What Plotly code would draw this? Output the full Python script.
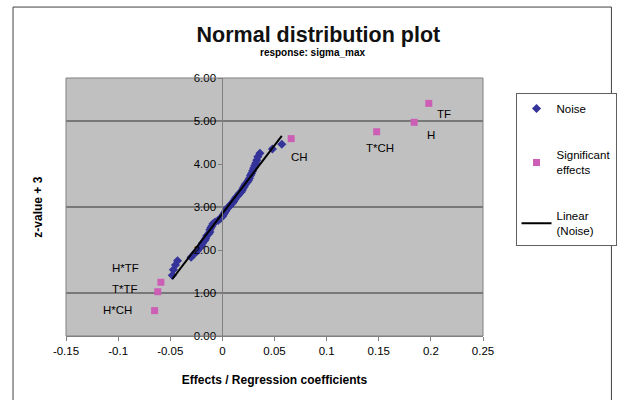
import numpy as np
import plotly.graph_objects as go

# Noise effects (small, normally distributed effects): effect value and z-value + 3
noise_x = [
    -0.048, -0.047, -0.045, -0.043,
    -0.030, -0.027, -0.024, -0.022, -0.020, -0.019, -0.017, -0.016, -0.015,
    -0.013, -0.012, -0.012, -0.011,
    -0.010, -0.009, -0.007, -0.004, -0.002, 0.000, 0.001, 0.002, 0.003,
    0.004, 0.005, 0.007, 0.008, 0.010, 0.011, 0.012, 0.013,
    0.015, 0.016, 0.018, 0.019, 0.020, 0.021, 0.022, 0.024, 0.025, 0.026,
    0.027, 0.028, 0.029, 0.030, 0.031, 0.032, 0.033, 0.034, 0.036,
    0.048, 0.057,
]
noise_y = [
    1.41, 1.54, 1.65, 1.75,
    1.83, 1.91, 1.98, 2.04, 2.10, 2.16, 2.22, 2.27, 2.33,
    2.38, 2.42, 2.47, 2.52,
    2.56, 2.61, 2.65, 2.69, 2.73, 2.78, 2.82, 2.86, 2.90,
    2.94, 2.98, 3.02, 3.06, 3.10, 3.14, 3.18, 3.22,
    3.27, 3.31, 3.35, 3.39, 3.44, 3.48, 3.53, 3.58, 3.62, 3.67,
    3.73, 3.78, 3.84, 3.90, 3.96, 4.02, 4.09, 4.17, 4.25,
    4.35, 4.46,
]

# Significant effects
sig_labels = ["H*CH", "T*TF", "H*TF", "CH", "T*CH", "H", "TF"]
sig_x = [-0.065, -0.062, -0.059, 0.066, 0.148, 0.184, 0.198]
sig_y = [0.59, 1.03, 1.25, 4.59, 4.75, 4.97, 5.41]

# x-axis ticks
x_tickvals = [-0.15, -0.1, -0.05, 0, 0.05, 0.1, 0.15, 0.2, 0.25]
x_ticktext = ["-0.15", "-0.1", "-0.05", "0", "0.05", "0.1", "0.15", "0.2", "0.25"]
y_tickvals = [0, 1, 2, 3, 4, 5, 6]
grid_levels = [1, 3, 5]

# label offsets (pixels) for the significant-effect labels
label_shift = [(-37, 1), (-33, 3), (-35, 14), (8, -18), (3, -16), (17, -13), (15, -11)]

FONT = "Liberation Sans, Arial, sans-serif"
X_RANGE = [-0.15, 0.25]

# linear trendline fitted to the noise points
slope, intercept = np.polyfit(noise_x, noise_y, 1)
trend_x = np.array([min(noise_x), max(noise_x)])
trend_y = slope * trend_x + intercept

fig = go.Figure()
fig.add_trace(go.Scatter(
    x=noise_x, y=noise_y, mode="markers", name="Noise", legendgroup="a",
    marker=dict(symbol="diamond", size=7, color="#333399"),
))
fig.add_trace(go.Scatter(
    x=sig_x, y=sig_y, mode="markers", name="Significant<br>effects", legendgroup="b",
    marker=dict(symbol="square", size=7, color="#CC5FB5"),
))
fig.add_trace(go.Scatter(
    x=trend_x, y=trend_y, mode="lines", name="Linear<br>(Noise)", legendgroup="c",
    line=dict(color="black", width=2),
))

annotations = []
for lab, x, y, (dx, dy) in zip(sig_labels, sig_x, sig_y, label_shift):
    annotations.append(dict(
        x=x, y=y, xref="x", yref="y", text=lab, showarrow=False,
        xshift=dx, yshift=dy, font=dict(family=FONT, size=11.5, color="black"),
    ))

# subtitle and y-axis title
annotations.append(dict(
    x=0.59, y=1.097, xref="paper", yref="paper", text="<b>response: sigma_max</b>",
    showarrow=False, font=dict(family=FONT, size=10, color="black"),
    xanchor="center", yanchor="middle",
))
annotations.append(dict(
    x=-0.068, y=0.5, xref="paper", yref="paper", text="<b>z-value + 3</b>",
    showarrow=False, textangle=-90, font=dict(family=FONT, size=12, color="black"),
    xanchor="center", yanchor="middle",
))

shapes = []
for g in grid_levels:
    shapes.append(dict(type="line", xref="paper", yref="y", x0=0, x1=1, y0=g, y1=g,
                       line=dict(color="#303030", width=1), layer="below"))
# plot-area border
shapes.append(dict(type="rect", xref="paper", yref="paper", x0=0, x1=1, y0=0, y1=1,
                   line=dict(color="#808080", width=1), layer="above"))
# chart-area border
shapes.append(dict(type="rect", xref="paper", yref="paper", x0=-0.127, x1=1.308,
                   y0=-0.30, y1=1.275, line=dict(color="#404040", width=1), layer="below"))

yaxis_pos = (0 - X_RANGE[0]) / (X_RANGE[1] - X_RANGE[0])

fig.update_layout(
    width=628, height=400,
    margin=dict(l=66, r=135, t=78, b=64, pad=0),
    paper_bgcolor="white", plot_bgcolor="#C0C0C0",
    font=dict(family=FONT, size=11.5, color="black"),
    title=dict(text="<b>Normal distribution plot</b>", x=0.507, xref="container",
               y=0.915, yref="container", xanchor="center", yanchor="middle",
               font=dict(family=FONT, size=21.5, color="#111111")),
    xaxis=dict(
        range=X_RANGE, tickvals=x_tickvals, ticktext=x_ticktext,
        ticks="outside", ticklen=4, tickcolor="#808080", showline=True,
        linecolor="#808080", showgrid=False, zeroline=False,
        title=dict(text="<b>Effects / Regression coefficients</b>", standoff=19,
                   font=dict(family=FONT, size=12)),
        tickfont=dict(family=FONT, size=11.5),
    ),
    yaxis=dict(
        range=[0, 6], tickvals=y_tickvals, tickformat=".2f",
        anchor="free", position=yaxis_pos,
        ticks="outside", ticklen=4, tickcolor="#808080", showline=True,
        linecolor="#808080", showgrid=False, zeroline=False,
        tickfont=dict(family=FONT, size=11.5),
    ),
    legend=dict(
        x=1.078, y=0.942, xanchor="left", yanchor="top",
        bgcolor="white", bordercolor="#606060", borderwidth=1,
        tracegroupgap=28, font=dict(family=FONT, size=11.5),
    ),
    annotations=annotations,
    shapes=shapes,
)

fig.write_html("out.html")
